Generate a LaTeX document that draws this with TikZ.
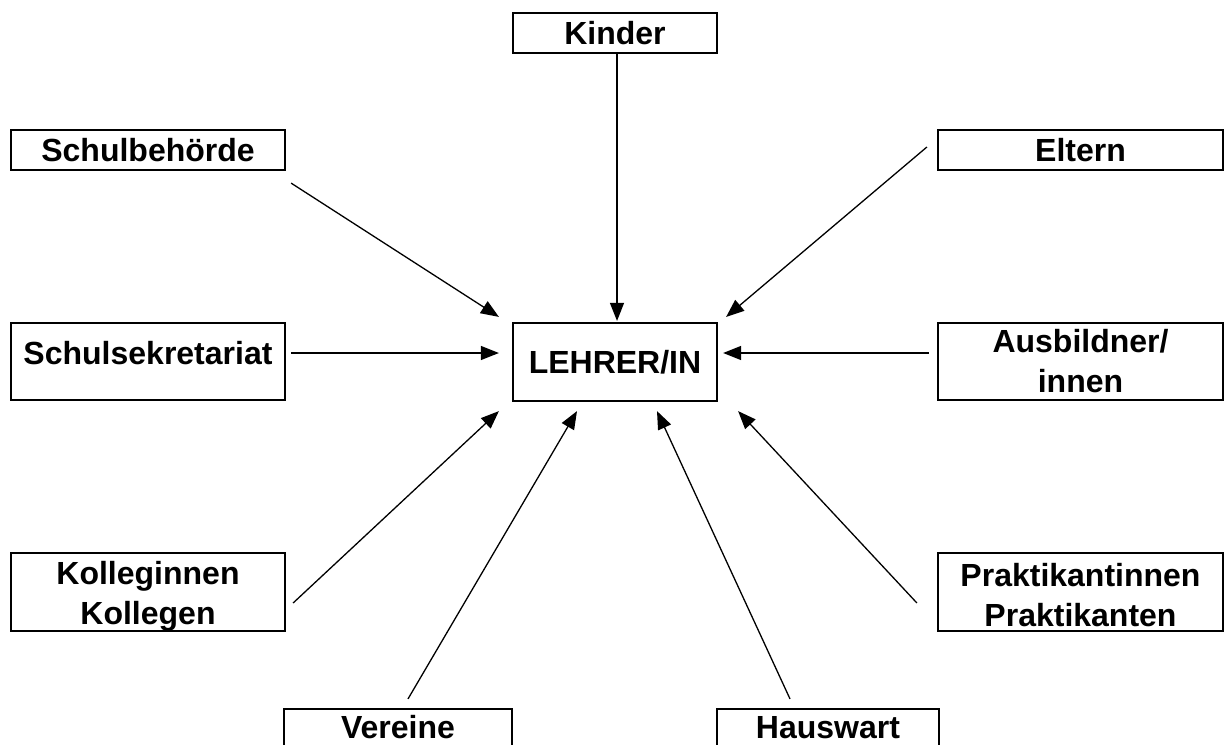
\documentclass[tikz,border=0pt]{standalone}
\usepackage{fontspec}
\setmainfont{Liberation Sans}
\usetikzlibrary{arrows.meta,calc}
\begin{document}
\begin{tikzpicture}[x=1pt,y=-1pt,
  box/.style={draw=black,line width=2.2pt,inner sep=0pt,align=center,
    font=\bfseries\fontsize{32}{40}\selectfont},
  txt/.style={inner sep=0pt,align=center,font=\bfseries\fontsize{32}{40}\selectfont},
  arr/.style={line width=1.3pt,-{Triangle[length=18pt,width=14pt]}}]
\useasboundingbox (0,0) rectangle (1225,744);
\clip (0,0) rectangle (1225,744);
\node[box,minimum width=204pt,minimum height=40pt] (kinder) at (615,33) {Kinder};
\node[box,minimum width=274pt,minimum height=40pt] (schulb) at (148,150) {Schulbehörde};
\node[box,minimum width=285pt,minimum height=40pt] (eltern) at (1080.5,150) {Eltern};
\node[box,minimum width=274pt,minimum height=77pt] (sekr) at (148,361.5) {};
\node[txt] (sekrtxt) at (148,353) {Schulsekretariat};
\node[box,minimum width=204pt,minimum height=78pt] (lehrer) at (615,362) {LEHRER/IN};
\node[box,minimum width=285pt,minimum height=77pt] (ausb) at (1080.5,361.5) {Ausbildner/\\innen};
\node[box,minimum width=274pt,minimum height=78pt] (koll) at (148,592) {};
\node[txt] (kolltxt) at (148,596) {Kolleginnen\\Kollegen};
\node[box,minimum width=285pt,minimum height=78pt] (prakt) at (1080.5,592) {};
\node[txt] (prakttxt) at (1080.5,595) {Praktikantinnen\\Praktikanten};
\node[box,minimum width=228pt,minimum height=37pt] (vereine) at (398,727.5) {Vereine};
\node[box,minimum width=222pt,minimum height=37pt] (hauswart) at (828,727.5) {Hauswart};
\draw[arr] ($(kinder.south)+(2,0)$) -- ($(lehrer.north)+(2,-1)$);
\draw[arr] ($(schulb.south east)+(5,12)$) -- ($(lehrer.north west)+(-13,-5)$);
\draw[arr] ($(eltern.west)+(-10,-3)$) -- ($(lehrer.north east)+(8,-5)$);
\draw[arr] ($(sekr.east)+(5,-8.5)$) -- ($(lehrer.west)+(-13,-9)$);
\draw[arr] ($(ausb.west)+(-8,-8.5)$) -- ($(lehrer.east)+(5,-9)$);
\draw[arr] ($(koll.east)+(7,11)$) -- ($(lehrer.south west)+(-13,9)$);
\draw[arr] ($(vereine.north)+(10,-9)$) -- ($(lehrer.south)+(-38,9)$);
\draw[arr] ($(hauswart.north)+(-38,-9)$) -- ($(lehrer.south)+(42,9)$);
\draw[arr] ($(prakt.west)+(-20,11)$) -- ($(lehrer.south east)+(20,9)$);
\end{tikzpicture}
\end{document}
